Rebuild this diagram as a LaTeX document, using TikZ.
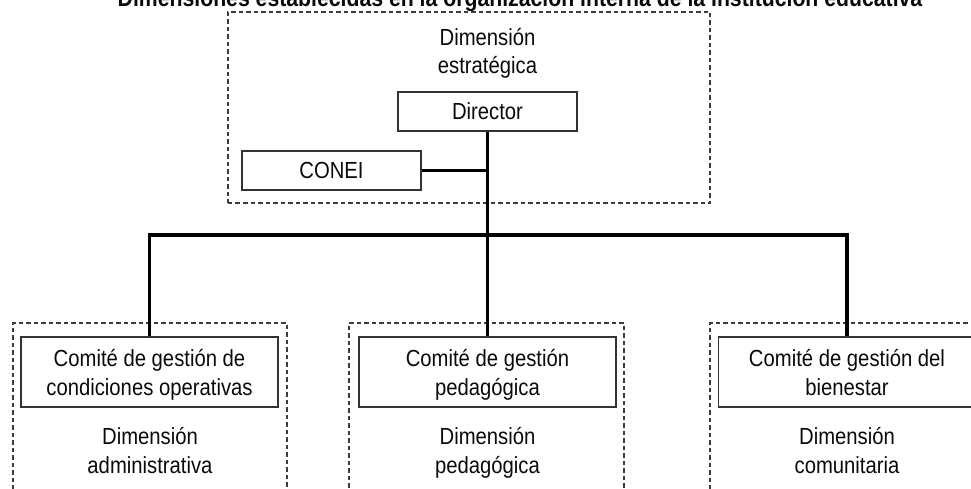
\documentclass[tikz,border=0pt]{standalone}
\usepackage{fontspec}
\setmainfont{Liberation Sans}[FakeStretch=0.87]
\definecolor{boxline}{HTML}{333333}
\definecolor{dashline}{HTML}{3C3C3C}
\definecolor{inkc}{HTML}{0A0A0A}
\begin{document}
\begin{tikzpicture}[x=1bp,y=-1bp,
  bodyfont/.style={font=\fontsize{23.3bp}{28.5bp}\selectfont, text=inkc},
  orgbox/.style={bodyfont, draw=boxline, line width=1.5bp, fill=white, inner sep=0pt,
    minimum width=179bp, minimum height=39bp, text height=17bp, text depth=0bp},
  combox/.style={bodyfont, draw=boxline, line width=1.5bp, fill=white, inner sep=0pt,
    align=center, minimum width=257bp, minimum height=70bp, text height=46.5bp, text depth=0.1bp},
  dimlabel/.style={bodyfont, align=center, inner sep=0pt},
  dimframe/.style={draw=dashline, line width=1.1bp, dash pattern=on 4.5bp off 3bp, inner sep=0pt},
  conn/.style={draw=black, line width=3.7bp, line join=miter}
]
\useasboundingbox (0,0) rectangle (971,489);
\clip (0,0) rectangle (971,489);

% title (cut at top in the reference)
\node[font=\bfseries\fontsize{24.4bp}{28bp}\selectfont, text=inkc, anchor=base, inner sep=0pt]
  (title) at (520,7) {Dimensiones establecidas en la organización interna de la institución educativa};

% dashed frames
\node[dimframe, minimum width=482bp, minimum height=191bp] (fs) at (469,107.5) {};
\node[dimframe, minimum width=274bp, minimum height=197bp] (fa) at (150,421.5) {};
\node[dimframe, minimum width=275bp, minimum height=197bp] (fp) at (486.5,421.5) {};
\node[dimframe, minimum width=274bp, minimum height=197bp] (fc) at (847,421.5) {};

% strategic dimension (base = last line)
\node[dimlabel, anchor=base] (lest) at (487.5,74) {Dimensión\\estratégica};
\node[orgbox] (dir) at (487.5,111.5) {Director};
\node[orgbox] (conei) at (331.5,170.5) {CONEI};

% committees
\node[combox] (c1) at (149.5,372) {Comité de gestión de\\condiciones operativas};
\node[combox] (c2) at (487.5,372) {Comité de gestión\\pedagógica};
\node[combox] (c3) at (847,372) {Comité de gestión del\\bienestar};

% dimension labels
\node[dimlabel, anchor=base] (la) at (150,473) {Dimensión\\administrativa};
\node[dimlabel, anchor=base] (lp) at (487.5,473) {Dimensión\\pedagógica};
\node[dimlabel, anchor=base] (lc) at (847,473) {Dimensión\\comunitaria};

% connectors
\coordinate (hub) at (487.5,235);
\draw[conn] (dir.south) -- (hub);
\draw[conn] (conei.east) -- (conei.east -| dir.south);
\draw[conn] (c1.north) |- (hub) -| (c3.north);
\draw[conn] (hub) -- (c2.north);
\end{tikzpicture}
\end{document}
